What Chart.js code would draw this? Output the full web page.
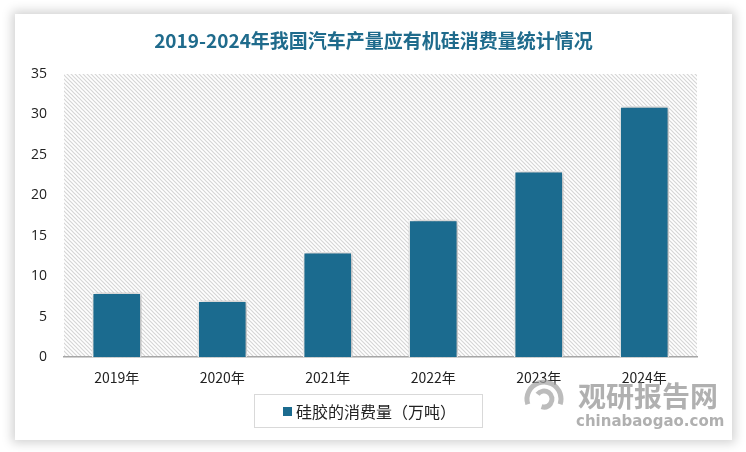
<!DOCTYPE html>
<html lang="zh">
<head>
<meta charset="UTF-8" />
<title>2019-2024年我国汽车产量应有机硅消费量统计情况</title>
<script src="https://cdn.jsdelivr.net/npm/chart.js"></script>
<style>
  html,body{margin:0;padding:0;background:#fff}
  body{width:746px;height:452px;position:relative;overflow:hidden}
  .card{position:absolute;left:15px;top:14px;width:717px;height:426px;background:#fff;box-shadow:0 0 10px 3px rgba(0,0,0,0.18)}
  canvas{display:block}
</style>
</head>
<body>
<div class="card"><canvas id="c" width="717" height="426"></canvas></div>
<script>
const years = ['2019年','2020年','2021年','2022年','2023年','2024年'];
const siliconeUse = [8, 7, 13, 17, 23, 31];
const seriesName = '硅胶的消费量（万吨）';
const titleText = '2019-2024年我国汽车产量应有机硅消费量统计情况';

const FONT = '"Noto Sans CJK SC","Noto Sans",sans-serif';
const BAR = '#1b6b8f';

function hatch(ctx){
  const p=document.createElement('canvas');p.width=4;p.height=4;
  const g=p.getContext('2d');
  g.fillStyle='#fff';g.fillRect(0,0,4,4);
  g.strokeStyle='#d6d6d6';g.lineWidth=1.2;
  g.beginPath();g.moveTo(0,0);g.lineTo(4,4);g.moveTo(-1,3);g.lineTo(1,5);g.moveTo(3,-1);g.lineTo(5,1);g.stroke();
  return ctx.createPattern(p,'repeat');
}

const decor = {
  id:'decor',
  beforeDraw(chart){
    const {ctx,chartArea:a}=chart;
    ctx.save();
    ctx.fillStyle=hatch(ctx);
    ctx.fillRect(a.left,a.top,a.right-a.left,a.bottom-a.top);
    // title, centred on the whole card
    ctx.fillStyle='#1f6b8c';ctx.font='bold 19px '+FONT;ctx.textAlign='center';ctx.textBaseline='middle';
    ctx.fillText(titleText,chart.width/2,27);
    ctx.restore();
  },
  beforeDatasetsDraw(chart){
    const ctx=chart.ctx;ctx.save();
    ctx.shadowColor='rgba(0,0,0,0.35)';ctx.shadowBlur=8;ctx.shadowOffsetX=2;ctx.shadowOffsetY=0;
  },
  afterDatasetsDraw(chart){chart.ctx.restore();},
  afterDraw(chart){
    const ctx=chart.ctx;
    ctx.save();
    // legend box
    ctx.strokeStyle='#d9d9d9';ctx.lineWidth=1;
    ctx.strokeRect(239.5,380.5,228,33);
    ctx.fillStyle=BAR;ctx.fillRect(268,393,9,9);
    ctx.fillStyle='#222';ctx.font='16px '+FONT;ctx.textBaseline='middle';ctx.textAlign='left';
    ctx.fillText(seriesName,281,397.5);
    // watermark
    ctx.fillStyle='rgba(150,150,150,0.75)';
    ctx.font='bold 28px '+FONT;ctx.textBaseline='alphabetic';
    ctx.fillText('观研报告网',563,393);
    ctx.font='bold 15px "DejaVu Sans",sans-serif';
    ctx.fillText('chinabaogao.com',561,412);
    ctx.strokeStyle='rgba(160,160,160,0.7)';ctx.lineWidth=5;
    ctx.beginPath();ctx.arc(529,385,17,Math.PI*0.9,Math.PI*2.1);ctx.stroke();
    ctx.beginPath();ctx.arc(529,385,8,Math.PI*1.2,Math.PI*2.6);ctx.stroke();
    ctx.restore();
  }
};

new Chart(document.getElementById('c'),{
  type:'bar',
  data:{labels:years,datasets:[{label:seriesName,data:siliconeUse,backgroundColor:BAR,borderColor:'#ffffff',borderWidth:1.5,categoryPercentage:1,barPercentage:0.47}]},
  options:{
    responsive:false,animation:false,
    layout:{padding:{left:0,right:35,top:60,bottom:42}},
    plugins:{
      title:{display:false},
      legend:{display:false},
      tooltip:{enabled:false}
    },
    scales:{
      x:{grid:{display:false,drawTicks:false},border:{color:'#a6a6a6',width:1.5},ticks:{color:'#222',font:{family:FONT,size:14},padding:12}},
      y:{min:0,max:35,afterFit(s){s.width=49;},grid:{display:false,drawTicks:false},border:{display:false},ticks:{stepSize:5,color:'#222',font:{family:'"Open Sans",sans-serif',size:14},padding:17}}
    }
  },
  plugins:[decor]
});
</script>
</body>
</html>
